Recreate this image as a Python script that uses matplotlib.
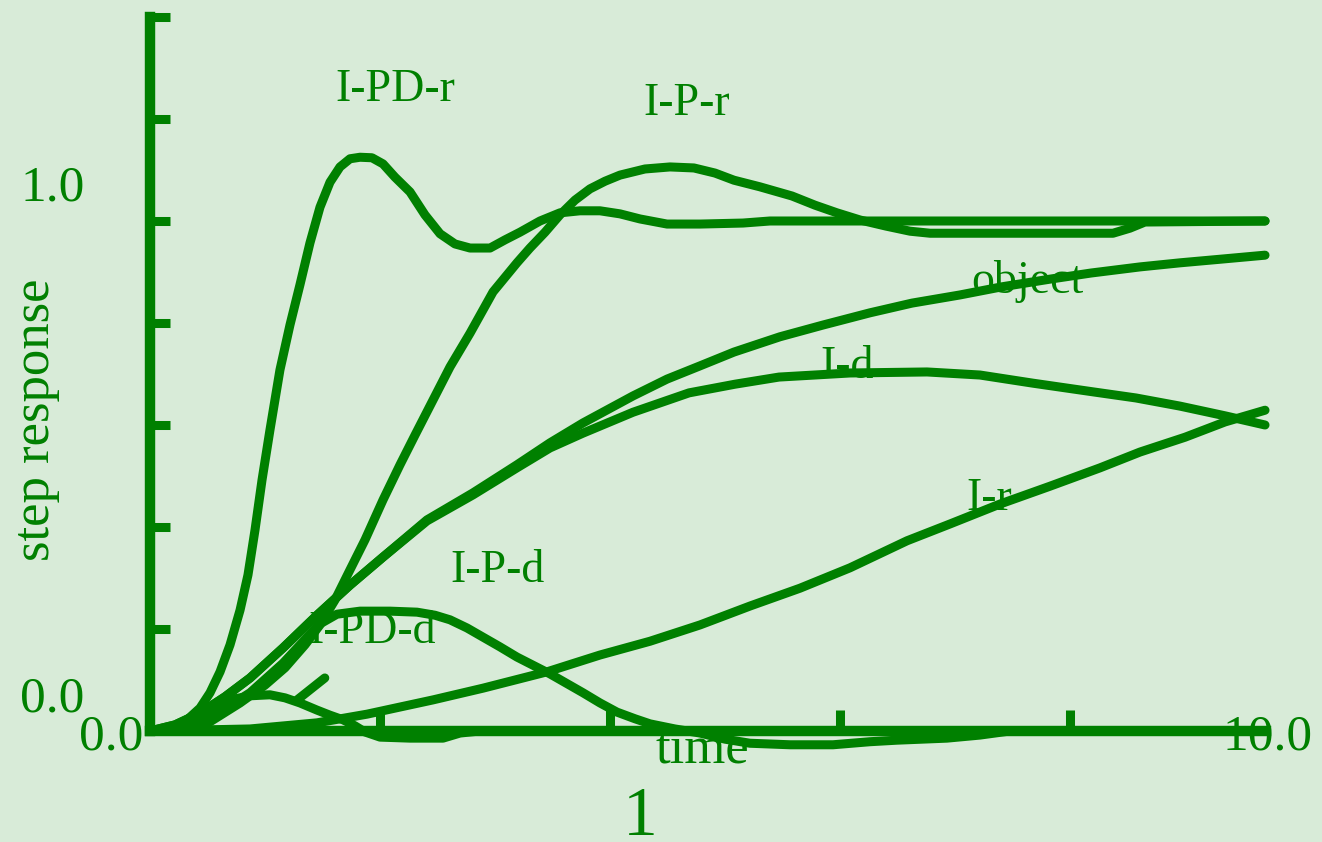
import numpy as np
import matplotlib
matplotlib.use('Agg')
import matplotlib.pyplot as plt

GREEN = '#008000'
BG = '#d8ebd8'

# ---- step responses (time, response) ----------------------------------------
t_ipd_r = [0, 0.174, 0.304, 0.435, 0.522, 0.609, 0.696, 0.783, 0.852, 0.913,
           0.974, 1.043, 1.130, 1.217, 1.304, 1.391, 1.478, 1.565, 1.652, 1.739,
           1.826, 1.930, 2.026, 2.130, 2.261, 2.391, 2.522, 2.652, 2.783, 2.957,
           3.087, 3.217, 3.391, 3.565, 3.739, 3.913, 4.087, 4.261, 4.496, 4.783,
           5.157, 5.391, 9.696]
y_ipd_r = [0, 0.006, 0.018, 0.045, 0.075, 0.116, 0.169, 0.237, 0.306, 0.394,
           0.492, 0.590, 0.708, 0.796, 0.875, 0.957, 1.027, 1.076, 1.106, 1.122,
           1.125, 1.124, 1.112, 1.086, 1.057, 1.012, 0.975, 0.955, 0.947, 0.947,
           0.963, 0.978, 1.0, 1.016, 1.02, 1.02, 1.014, 1.004, 0.994, 0.994,
           0.996, 1.0, 1.0]

t_ip_r = [0, 0.261, 0.522, 0.783, 1.0, 1.174, 1.348, 1.478, 1.609, 1.739, 1.870,
          2.026, 2.174, 2.304, 2.461, 2.609, 2.783, 2.983, 3.191, 3.304, 3.435,
          3.565, 3.696, 3.826, 3.957, 4.087, 4.304, 4.522, 4.730, 4.913, 5.078,
          5.304, 5.583, 5.783, 5.974, 6.174, 6.400, 6.609, 6.783, 8.374, 8.522,
          8.652, 9.696]
y_ip_r = [0, 0.006, 0.018, 0.055, 0.090, 0.124, 0.169, 0.208, 0.257, 0.316,
          0.375, 0.453, 0.522, 0.580, 0.649, 0.714, 0.780, 0.861, 0.918, 0.947,
          0.978, 1.012, 1.041, 1.063, 1.078, 1.090, 1.102, 1.106, 1.104, 1.094,
          1.080, 1.067, 1.049, 1.031, 1.016, 1.002, 0.990, 0.980, 0.976, 0.976,
          0.986, 0.998, 1.0]

t_object = [0, 0.217, 0.435, 0.652, 0.870, 1.157, 1.452, 1.739, 2.026, 2.409,
            2.809, 3.191, 3.478, 3.765, 4.200, 4.496, 4.783, 5.078, 5.478,
            5.852, 6.261, 6.626, 7.043, 7.409, 7.826, 8.183, 8.609, 8.957,
            9.304, 9.696]
y_object = [0, 0.012, 0.035, 0.067, 0.104, 0.163, 0.227, 0.286, 0.341, 0.414,
            0.467, 0.522, 0.565, 0.604, 0.657, 0.690, 0.716, 0.743, 0.773,
            0.796, 0.820, 0.839, 0.855, 0.871, 0.886, 0.898, 0.910, 0.918,
            0.925, 0.933]

t_i_d = [0, 0.217, 0.435, 0.652, 0.870, 1.157, 1.452, 1.739, 2.026, 2.409,
         2.809, 3.191, 3.478, 3.765, 4.200, 4.687, 5.087, 5.470, 6.087, 6.757,
         7.217, 7.678, 8.200, 8.574, 8.957, 9.348, 9.696]
y_i_d = [0, 0.012, 0.035, 0.067, 0.104, 0.163, 0.227, 0.286, 0.341, 0.412,
         0.463, 0.516, 0.555, 0.584, 0.625, 0.663, 0.680, 0.694, 0.702, 0.704,
         0.698, 0.682, 0.665, 0.653, 0.637, 0.618, 0.600]

t_i_r = [0, 0.435, 0.870, 1.452, 1.887, 2.461, 2.896, 3.452, 3.913, 4.348,
         4.783, 5.217, 5.652, 6.087, 6.583, 6.957, 7.391, 7.826, 8.261, 8.609,
         9.000, 9.348, 9.696]
y_i_r = [0, 0.002, 0.004, 0.016, 0.033, 0.061, 0.084, 0.116, 0.149, 0.176,
         0.208, 0.245, 0.280, 0.320, 0.373, 0.406, 0.445, 0.480, 0.516, 0.547,
         0.576, 0.606, 0.629]

t_ip_d = [0, 0.261, 0.522, 0.870, 1.157, 1.330, 1.478, 1.626, 1.826, 2.087,
          2.322, 2.478, 2.609, 2.757, 2.896, 3.043, 3.191, 3.478, 3.765, 3.913,
          4.061, 4.217, 4.348, 4.565, 4.783, 5.000, 5.217, 5.565, 5.939, 6.261,
          6.496, 6.930, 7.217, 7.478, 9.696]
y_ip_d = [0, 0.008, 0.025, 0.075, 0.133, 0.175, 0.210, 0.229, 0.235, 0.235,
          0.233, 0.227, 0.218, 0.202, 0.184, 0.165, 0.145, 0.112, 0.075, 0.055,
          0.037, 0.024, 0.014, 0.004, -0.004, -0.016, -0.024, -0.027, -0.027,
          -0.021, -0.018, -0.014, -0.008, 0, 0]

t_ipd_d = [0, 0.174, 0.348, 0.522, 0.696, 0.870, 1.043, 1.174, 1.304, 1.452,
           1.565, 1.678, 1.783, 1.870, 2.000, 2.261, 2.548, 2.696, 2.870, 9.696]
y_ipd_d = [0, 0.004, 0.018, 0.041, 0.061, 0.069, 0.071, 0.065, 0.055, 0.041,
           0.031, 0.022, 0.010, -0.002, -0.012, -0.014, -0.014, -0.004, 0, 0]

# stray stroke near the I-PD-d curve
t_stroke = [1.28, 1.52]
y_stroke = [0.061, 0.104]

curves = [(t_ipd_r, y_ipd_r), (t_ip_r, y_ip_r), (t_object, y_object),
          (t_i_d, y_i_d), (t_i_r, y_i_r), (t_ip_d, y_ip_d),
          (t_ipd_d, y_ipd_d), (t_stroke, y_stroke)]

labels = ['I-PD-r', 'I-P-r', 'object', 'I-d', 'I-r', 'I-P-d', 'I-PD-d']
label_x = [2.13, 4.67, 7.63, 6.06, 7.30, 3.02, 1.93]
label_y = [1.235, 1.208, 0.859, 0.692, 0.433, 0.292, 0.173]

y_ticks = [0.2, 0.4, 0.6, 0.8, 1.0, 1.2, 1.4]
x_ticks = [2, 4, 6, 8]
T_END = 9.7
Y_TOP = 1.4

# ---- plot -------------------------------------------------------------------
fig = plt.figure(figsize=(13.22, 8.42), dpi=100)
fig.patch.set_facecolor(BG)
ax = fig.add_axes([0, 0, 1, 1])
ax.set_facecolor(BG)
ax.set_xlim(-150 / 115, (1322 - 150) / 115)
ax.set_ylim((731 - 842) / 510, 731 / 510)

for t, y in curves:
    ax.plot(t, y, color=GREEN, lw=6.5, solid_capstyle='round',
            solid_joinstyle='round', zorder=3)

for name, x, y in zip(labels, label_x, label_y):
    ax.text(x, y, name, color=GREEN, fontsize=33, family='Liberation Serif',
            ha='center', va='baseline', zorder=2)

for side in ('top', 'right'):
    ax.spines[side].set_visible(False)
ax.spines['left'].set_position(('data', 0))
ax.spines['bottom'].set_position(('data', 0))
ax.spines['left'].set_bounds(0, Y_TOP)
ax.spines['bottom'].set_bounds(0, T_END)
for side in ('left', 'bottom'):
    ax.spines[side].set_color(GREEN)
    ax.spines[side].set_linewidth(7.5)
    ax.spines[side].set_capstyle('projecting')

ax.set_yticks(y_ticks)
ax.set_xticks(x_ticks)
ax.tick_params(axis='y', direction='in', length=14.5, width=6.5, color=GREEN,
               labelleft=False)
ax.tick_params(axis='x', direction='in', length=15, width=6.5, color=GREEN,
               labelbottom=False)

txt = dict(color=GREEN, family='Liberation Serif', va='baseline', ha='center')
ax.text(-0.843, 1.041, '1.0', fontsize=37, **txt)
ax.text(-0.852, 0.039, '0.0', fontsize=37, **txt)
ax.text(-0.339, -0.037, '0.0', fontsize=37, **txt)
ax.text(9.72, -0.037, '10.0', fontsize=37, **txt)
ax.text(4.80, -0.061, 'time', fontsize=38, **txt)
ax.text(4.26, -0.204, '1', fontsize=50, **txt)
ax.text(-0.991, 0.61, 'step response', fontsize=38, color=GREEN,
        family='Liberation Serif', rotation=90, ha='center', va='center')

fig.savefig('out.png', dpi=100, facecolor=BG)
